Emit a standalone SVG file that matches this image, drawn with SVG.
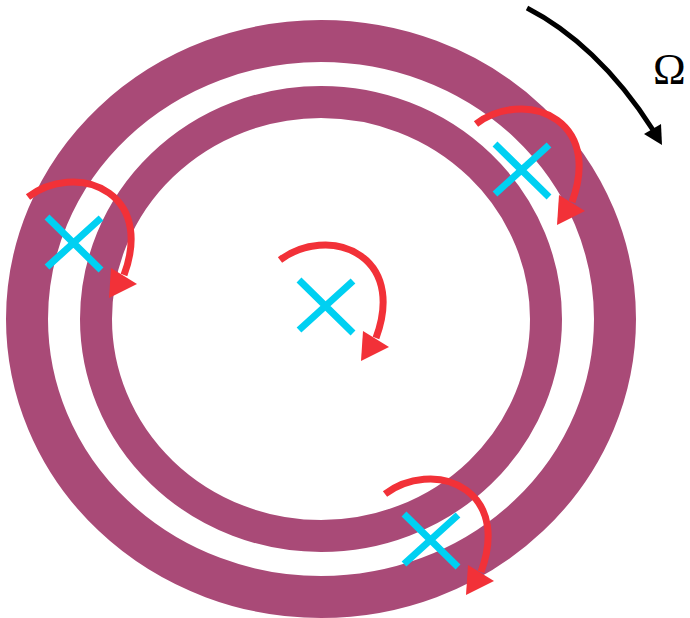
<svg xmlns="http://www.w3.org/2000/svg" width="690" height="618" viewBox="0 0 690 618">
<style>
.ring{fill:none;stroke:#A94A77}
.cross{stroke:#00D0F2;stroke-width:7;fill:none}
.rot{stroke:#F23138;stroke-width:7;fill:none}
.head{fill:#F23138}
.omega{font-family:"Liberation Serif","DejaVu Serif",serif;font-size:44px;fill:#000}
</style>
<defs>
<g id="vortex">
<path class="cross" d="M-27,-26 L27,27 M27,-25 L-27,24"/>
<path class="rot" d="M-46,-46 C-25,-62 10,-68 35,-50 C60,-32 62,0 50,32"/>
<polygon class="head" points="35,55 37,25 63,41"/>
</g>
</defs>
<rect width="690" height="618" fill="#fff"/>
<g id="outer-ring"><ellipse class="ring" cx="321" cy="319" rx="294" ry="278" stroke-width="42"/></g>
<g id="inner-ring"><ellipse class="ring" cx="321" cy="319" rx="225" ry="217" stroke-width="32"/></g>
<g id="vortex-center"><use href="#vortex" transform="translate(326,306)"/></g>
<g id="vortex-left"><use href="#vortex" transform="translate(74,243)"/></g>
<g id="vortex-topright"><use href="#vortex" transform="translate(522,170)"/></g>
<g id="vortex-bottom"><use href="#vortex" transform="translate(431,540)"/></g>
<g id="connectors">
<path d="M527,8 C570,30 615,70 653,130" fill="none" stroke="#000" stroke-width="5"/>
<polygon points="662,145 644,134 661,124" fill="#000"/>
</g>
<g id="omega-label"><text class="omega" x="653" y="84">Ω</text></g>
</svg>
